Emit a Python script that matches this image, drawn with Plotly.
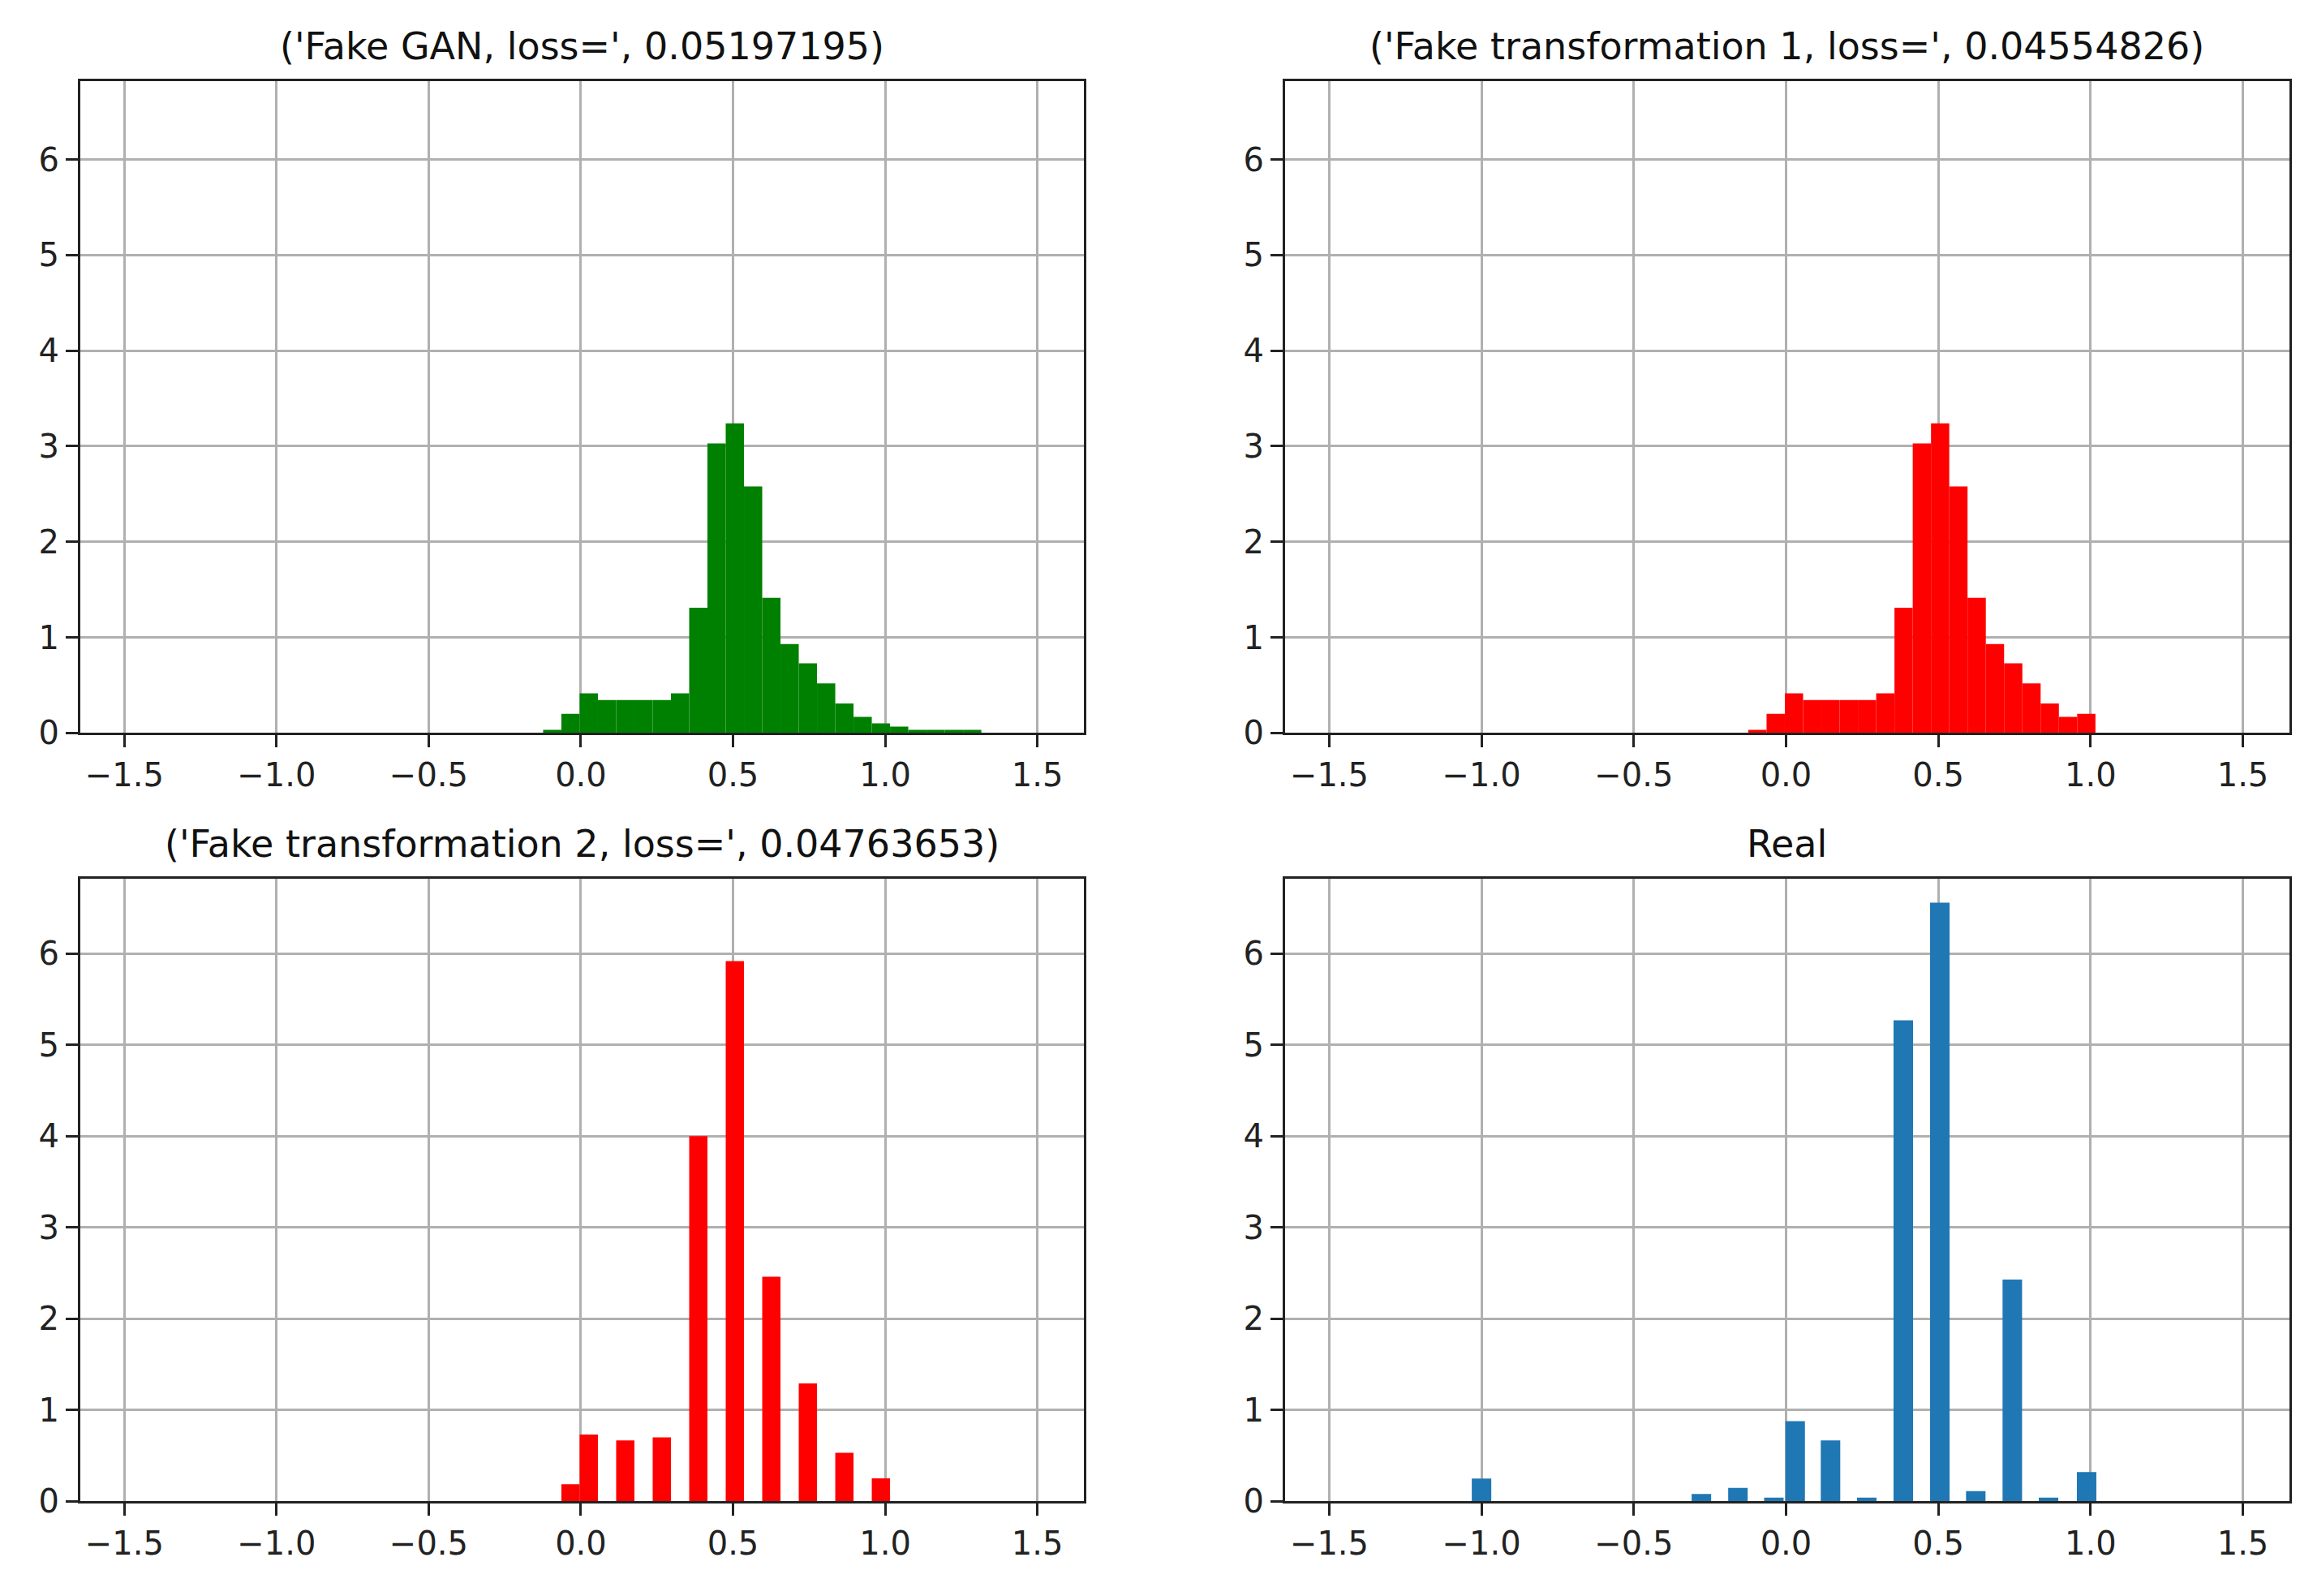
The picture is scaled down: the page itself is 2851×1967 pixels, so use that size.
import plotly.graph_objects as go

# Histogram bins shared by the fake distributions
bin_start = -0.124
bin_width = 0.06

gan_density = [0.034, 0.20, 0.415, 0.345, 0.345, 0.345, 0.345, 0.415, 1.31, 3.03, 3.24, 2.58,
               1.415, 0.93, 0.73, 0.52, 0.31, 0.17, 0.10, 0.068, 0.034, 0.034, 0.034, 0.034]
t1_density = [0.034, 0.20, 0.415, 0.345, 0.345, 0.345, 0.345, 0.415, 1.31, 3.03, 3.24, 2.58,
              1.415, 0.93, 0.73, 0.52, 0.31, 0.17, 0.20]
t2_bins = [1, 2, 4, 6, 8, 10, 12, 14, 16, 18]
t2_density = [0.186, 0.73, 0.667, 0.70, 4.0, 5.92, 2.46, 1.29, 0.53, 0.25]

real_centers = [-1.0, -0.278, -0.158, -0.04, 0.03, 0.146, 0.265, 0.385, 0.505, 0.623, 0.743, 0.862, 0.987]
real_density = [0.247, 0.078, 0.146, 0.04, 0.877, 0.667, 0.04, 5.27, 6.56, 0.11, 2.43, 0.04, 0.32]
real_width = 0.064

titles = ["('Fake GAN, loss=', 0.05197195)", "('Fake transformation 1, loss=', 0.04554826)",
          "('Fake transformation 2, loss=', 0.04763653)", "Real"]
xticks = [-1.5, -1.0, -0.5, 0.0, 0.5, 1.0, 1.5]
xticklabels = ["\u22121.5", "\u22121.0", "\u22120.5", "0.0", "0.5", "1.0", "1.5"]
yticks = [0, 1, 2, 3, 4, 5, 6]

def centers(idx):
    return [bin_start + bin_width * (i + 0.5) for i in idx]

fig = go.Figure()
fig.add_trace(go.Bar(x=centers(range(len(gan_density))), y=gan_density, width=bin_width,
                     marker=dict(color="#008000", line_width=0), xaxis="x", yaxis="y"))
fig.add_trace(go.Bar(x=centers(range(len(t1_density))), y=t1_density, width=bin_width,
                     marker=dict(color="#ff0000", line_width=0), xaxis="x2", yaxis="y2"))
fig.add_trace(go.Bar(x=centers(t2_bins), y=t2_density, width=bin_width,
                     marker=dict(color="#ff0000", line_width=0), xaxis="x3", yaxis="y3"))
fig.add_trace(go.Bar(x=real_centers, y=real_density, width=real_width,
                     marker=dict(color="#1f77b4", line_width=0), xaxis="x4", yaxis="y4"))

xd = [[0.0319, 0.4658], [0.5528, 0.9870]]
yd = [[0.5394, 0.9527], [0.0524, 0.4469]]
font = dict(family="DejaVu Sans", size=40, color="#222")
layout = dict(width=2851, height=1967, margin=dict(l=0, r=0, t=0, b=0),
              paper_bgcolor="white", plot_bgcolor="white", showlegend=False, font=font)
annotations = []
for k in range(4):
    r, c = divmod(k, 2)
    sx = "" if k == 0 else str(k + 1)
    layout["xaxis" + sx] = dict(domain=xd[c], anchor="y" + sx, range=[-1.645, 1.653],
                                tickvals=xticks, ticktext=xticklabels, showgrid=True,
                                gridcolor="#b0b0b0", gridwidth=2.5, ticks="outside", ticklen=15,
                                tickwidth=3, tickcolor="#222", showline=True, linecolor="#222",
                                linewidth=3, mirror=True, zeroline=False,
                                tickfont=dict(size=40))
    layout["yaxis" + sx] = dict(domain=yd[r], anchor="x" + sx, range=[0, 6.82], tickvals=yticks,
                                showgrid=True, gridcolor="#b0b0b0", gridwidth=2.5, ticks="outside",
                                ticklen=15, tickwidth=3, tickcolor="#222", showline=True,
                                linecolor="#222", linewidth=3, mirror=True, zeroline=False,
                                tickfont=dict(size=40))
    annotations.append(dict(text=titles[k], xref="paper", yref="paper",
                            x=(xd[c][0] + xd[c][1]) / 2, y=yd[r][1], yshift=14,
                            xanchor="center", yanchor="bottom", showarrow=False,
                            font=dict(size=46, color="#111")))
layout["annotations"] = annotations
fig.update_layout(**layout)
fig.write_html("out.html")
